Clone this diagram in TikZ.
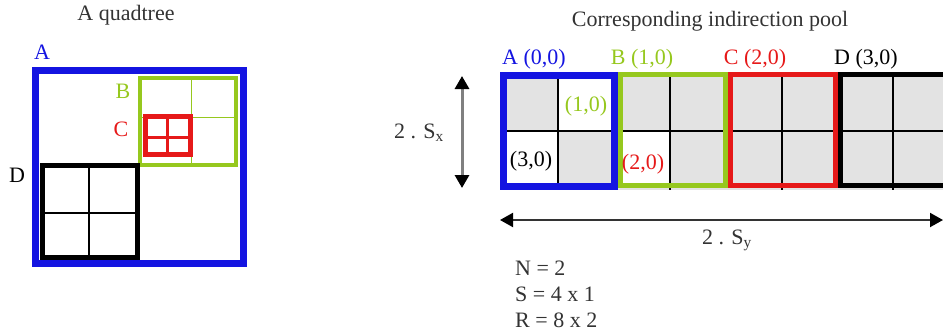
\documentclass[tikz,border=0pt]{standalone}
\usepackage{fontspec}
\setmainfont{Liberation Serif}
\usepackage{tikz}
\usetikzlibrary{arrows.meta}
\definecolor{quadBlue}{RGB}{20,20,225}
\definecolor{quadGreen}{RGB}{150,200,30}
\definecolor{quadRed}{RGB}{230,25,25}
\newcommand{\corA}{quadBlue}
\newcommand{\corB}{quadGreen}
\newcommand{\corC}{quadRed}
\newcommand{\corD}{black}
\newcommand{\corCel}{black!11}
\newcommand{\corTxt}{black!80}
\tikzset{
  txt/.style={font=\fontsize{22}{26}\selectfont, inner sep=0pt, text=\corTxt},
  dimarrow/.style={{Triangle[length=13pt,width=14pt,color=black]}-{Triangle[length=13pt,width=14pt,color=black]}},
}

\begin{document}
\begin{tikzpicture}[x=1pt, y=-1pt]
  \useasboundingbox (0,0) rectangle (943,335);
  \clip (0,0) rectangle (943,335);

  % arvore: titulo
  \node[txt] (quadTitle) at (126,15) {A quadtree};

  % item B
  \draw[\corB, line width=4pt] (139.5,77.5) rectangle (236,165);
  \draw[\corB, line width=1pt] (191,77.5) -- (191,165) (139.5,117) -- (236,117);

  % item C
  \filldraw[draw=\corC, fill=white, line width=5pt] (145.5,116.5) rectangle (190.5,154.5);
  \draw[\corC, line width=3pt] (167,116.5) -- (167,154.5) (145.5,137) -- (190.5,137);

  % item D
  \draw[\corD, line width=5pt] (42,165.5) rectangle (137.5,257.5);
  \draw[\corD, line width=2pt] (89,165.5) -- (89,257.5) (42,213) -- (137.5,213);

  % item A
  \draw[\corA, line width=7pt] (35.5,70.5) rectangle (243.5,263.5);

  % rotulos da arvore
  \node[txt, text=\corA] (labA) at (42,52) {A};
  \node[txt, text=\corB] (labB) at (123,91) {B};
  \node[txt, text=\corC] (labC) at (121,129) {C};
  \node[txt, text=\corD] (labD) at (17,175) {D};

  % pool: titulo
  \node[txt] (poolTitle) at (710,21) {Corresponding indirection pool};

  % celulas
  \fill[\corCel] (500,72) rectangle (943,190);
  \fill[white] (558,75) rectangle (614,131);
  \fill[white] (504,131) rectangle (558,187);
  \fill[white] (619,131) rectangle (670,187);

  % grade
  \draw[line width=1.2pt] (500,131) -- (943,131);
  \foreach \x in {558,670,782,893}
    \draw[line width=1.2pt] (\x,72) -- (\x,190);

  % blocos do pool
  \draw[\corA, line width=7pt] (503.5,75.5) rectangle (614.5,186.5);
  \draw[\corB, line width=5pt] (620.5,74.5) rectangle (725.5,185.5);
  \draw[\corC, line width=5pt] (730.5,74.5) rectangle (835.5,185.5);
  \draw[\corD, line width=5pt] (840.5,74.5) rectangle (950.5,185.5);

  % rotulos do pool
  \node[txt, text=\corA] (poolA) at (534,59) {A (0,0)};
  \node[txt, text=\corB] (poolB) at (642,59) {B (1,0)};
  \node[txt, text=\corC] (poolC) at (755,59) {C (2,0)};
  \node[txt, text=\corD] (poolD) at (866,59) {D (3,0)};
  \node[txt, text=\corB] (celB) at (586,106) {(1,0)};
  \node[txt, text=\corD] (celD) at (531,161) {(3,0)};
  \node[txt, text=\corC] (celC) at (643,164) {(2,0)};

  % dimensoes
  \coordinate (syTop) at (462,76);
  \coordinate (syBot) at (462,188);
  \draw[dimarrow, draw=black!50, line width=3pt] (syTop) -- (syBot);
  \node[txt] (sxLbl) at (419,133) {2 . S\textsubscript{x}};
  \coordinate (pLeft) at (500,220);
  \coordinate (pRight) at (943,220);
  \draw[dimarrow, draw=black!80, line width=2pt] (pLeft) -- (pRight);
  \node[txt] (syLbl) at (727,240) {2 . S\textsubscript{y}};

  % valores
  \node[txt, anchor=west] (valN) at (515,268) {N = 2};
  \node[txt, anchor=west] (valS) at (515,294) {S = 4 x 1};
  \node[txt, anchor=west] (valR) at (515,320) {R = 8 x 2};
\end{tikzpicture}
\end{document}
